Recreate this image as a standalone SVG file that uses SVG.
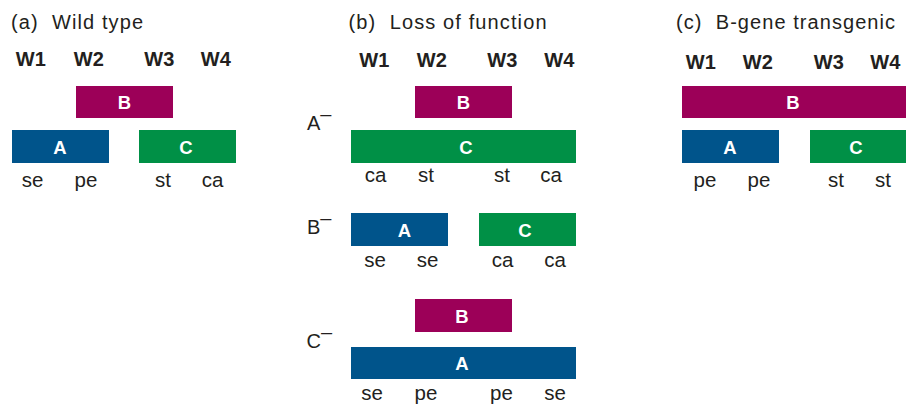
<svg xmlns="http://www.w3.org/2000/svg" width="906" height="404" viewBox="0 0 906 404">
<style>
text{font-family:"Liberation Sans",Arial,sans-serif;fill:#231f20}
.title{font-size:20px;white-space:pre}
.hdr{font-size:20px;font-weight:bold;text-anchor:middle;letter-spacing:0.3px}
.lbl{font-size:20.5px;text-anchor:middle}
.row{font-size:20px}
.bt{font-size:18.5px;font-weight:bold;text-anchor:middle;fill:#fff}
.A{fill:#00548b}
.B{fill:#9c0058}
.C{fill:#009046}
</style>
<rect width="906" height="404" fill="#fff"/>

<g id="panel-a">
  <text class="title" x="11" y="29" xml:space="preserve" textLength="132" lengthAdjust="spacing">(a)  Wild type</text>
  <g id="a-header">
    <text class="hdr" x="31" y="65.5">W1</text>
    <text class="hdr" x="89" y="65.5">W2</text>
    <text class="hdr" x="159.5" y="65.5">W3</text>
    <text class="hdr" x="216" y="65.5">W4</text>
  </g>
  <g id="a-B"><rect class="B" x="76" y="86" width="97" height="32"/><text class="bt" x="124.5" y="109">B</text></g>
  <g id="a-A"><rect class="A" x="12" y="130" width="97" height="33"/><text class="bt" x="60" y="153.5">A</text></g>
  <g id="a-C"><rect class="C" x="139" y="130" width="97" height="33"/><text class="bt" x="186" y="153.5">C</text></g>
  <g id="a-labels">
    <text class="lbl" x="32.5" y="186.5">se</text>
    <text class="lbl" x="86" y="186.5">pe</text>
    <text class="lbl" x="163" y="186.5">st</text>
    <text class="lbl" x="212.5" y="186.5">ca</text>
  </g>
</g>

<g id="panel-b">
  <text class="title" x="348.5" y="29" xml:space="preserve" textLength="198" lengthAdjust="spacing">(b)  Loss of function</text>
  <g id="b-header">
    <text class="hdr" x="374.5" y="66.5">W1</text>
    <text class="hdr" x="432" y="66.5">W2</text>
    <text class="hdr" x="502.5" y="66.5">W3</text>
    <text class="hdr" x="559.5" y="66.5">W4</text>
  </g>
  <g id="b-Aminus">
    <text class="row" x="307" y="129.5">A<tspan dy="-9">–</tspan></text>
    <g id="b1-B"><rect class="B" x="415" y="86" width="97" height="32"/><text class="bt" x="463.5" y="109">B</text></g>
    <g id="b1-C"><rect class="C" x="351" y="130" width="225" height="33"/><text class="bt" x="466" y="153.5">C</text></g>
    <text class="lbl" x="375.5" y="182">ca</text>
    <text class="lbl" x="426" y="182">st</text>
    <text class="lbl" x="502" y="182">st</text>
    <text class="lbl" x="551" y="182">ca</text>
  </g>
  <g id="b-Bminus">
    <text class="row" x="307" y="234">B<tspan dy="-9">–</tspan></text>
    <g id="b2-A"><rect class="A" x="351" y="213" width="97" height="33"/><text class="bt" x="404.5" y="236.5">A</text></g>
    <g id="b2-C"><rect class="C" x="479" y="213" width="97" height="33"/><text class="bt" x="525" y="236.5">C</text></g>
    <text class="lbl" x="375" y="266.5">se</text>
    <text class="lbl" x="427.5" y="266.5">se</text>
    <text class="lbl" x="502.5" y="266.5">ca</text>
    <text class="lbl" x="555" y="266.5">ca</text>
  </g>
  <g id="b-Cminus">
    <text class="row" x="306.5" y="348">C<tspan dy="-9">–</tspan></text>
    <g id="b3-B"><rect class="B" x="415" y="299" width="97" height="33"/><text class="bt" x="462" y="322.5">B</text></g>
    <g id="b3-A"><rect class="A" x="351" y="347" width="225" height="32"/><text class="bt" x="462" y="370">A</text></g>
    <text class="lbl" x="372" y="400">se</text>
    <text class="lbl" x="426" y="400">pe</text>
    <text class="lbl" x="501.5" y="400">pe</text>
    <text class="lbl" x="555" y="400">se</text>
  </g>
</g>

<g id="panel-c">
  <text class="title" x="676" y="29" xml:space="preserve" textLength="219" lengthAdjust="spacing">(c)  B-gene transgenic</text>
  <g id="c-header">
    <text class="hdr" x="701" y="69">W1</text>
    <text class="hdr" x="758" y="69">W2</text>
    <text class="hdr" x="829" y="69">W3</text>
    <text class="hdr" x="885.5" y="69">W4</text>
  </g>
  <g id="c-B"><rect class="B" x="682" y="86" width="225" height="32"/><text class="bt" x="793" y="109">B</text></g>
  <g id="c-A"><rect class="A" x="682" y="130" width="97" height="33"/><text class="bt" x="730" y="153.5">A</text></g>
  <g id="c-C"><rect class="C" x="810" y="130" width="97" height="33"/><text class="bt" x="856" y="153.5">C</text></g>
  <g id="c-labels">
    <text class="lbl" x="705" y="187">pe</text>
    <text class="lbl" x="759" y="187">pe</text>
    <text class="lbl" x="836" y="187">st</text>
    <text class="lbl" x="883" y="187">st</text>
  </g>
</g>
</svg>
